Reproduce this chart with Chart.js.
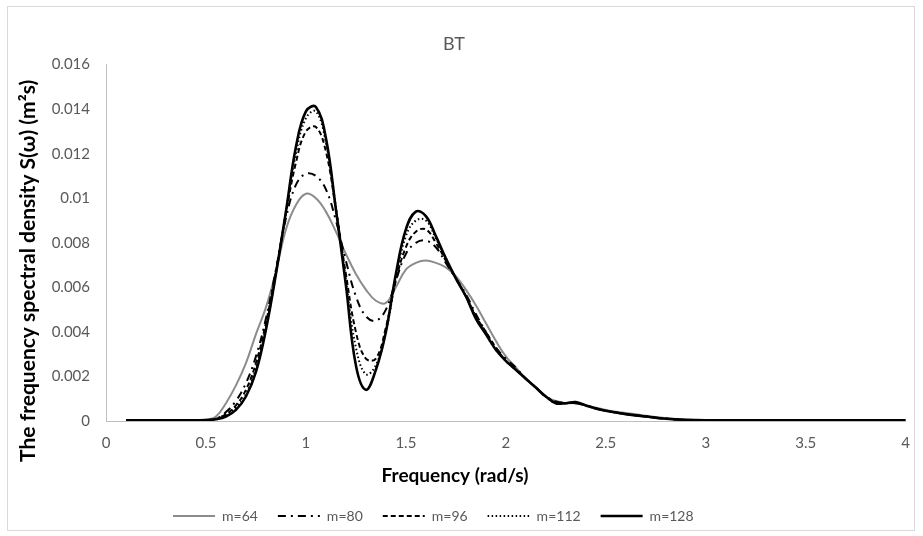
<!DOCTYPE html>
<html>
<head>
<meta charset="utf-8">
<script src="https://cdn.jsdelivr.net/npm/chart.js@4.4.1/dist/chart.umd.min.js"></script>
<style>
  html, body { margin: 0; padding: 0; background: #fff; }
</style>
</head>
<body>
<canvas id="chart" width="923" height="536"></canvas>
<script>
// frequency grid (rad/s)
const freq = [0.1, 0.2, 0.3, 0.4, 0.5, 0.55, 0.6, 0.65, 0.7, 0.75, 0.8, 0.85, 0.9, 0.95, 1.0,
  1.05, 1.1, 1.15, 1.2, 1.25, 1.3, 1.35, 1.4, 1.45, 1.5, 1.55, 1.6, 1.65, 1.7, 1.75,
  1.8, 1.85, 1.9, 1.95, 2.0, 2.05, 2.1, 2.15, 2.2, 2.25, 2.3, 2.35, 2.4, 2.45, 2.5,
  2.55, 2.6, 2.7, 2.8, 2.9, 3.0, 3.25, 3.5, 3.75, 4.0];

const m64 = [0.00002, 0.00003, 0.00003, 0.00004, 0.00006, 0.0002, 0.0008, 0.0016, 0.0026, 0.0039,
  0.0051, 0.0067, 0.0086, 0.0097, 0.0102, 0.0100, 0.0094, 0.0085, 0.0075, 0.0066,
  0.0059, 0.0054, 0.0053, 0.0060, 0.0068, 0.0071, 0.0072, 0.0071, 0.0069, 0.0065,
  0.0059, 0.0052, 0.0044, 0.0036, 0.0029, 0.0024, 0.0019, 0.0015, 0.0011, 0.0009,
  0.0008, 0.0008, 0.0007, 0.0006, 0.0005, 0.00042, 0.00036, 0.00024, 0.00013, 0.00006,
  0.00004, 0.00003, 0.00002, 0.00002, 0.00002];

const m80 = [0.00003, 0.00003, 0.00003, 0.00003, 0.00004, 0.0001, 0.0004, 0.0009, 0.0017, 0.0029,
  0.0046, 0.0068, 0.0091, 0.0106, 0.0111, 0.0110, 0.0104, 0.0090, 0.0072, 0.0056,
  0.0047, 0.0045, 0.0050, 0.0063, 0.0075, 0.0080, 0.0081, 0.0078, 0.0071, 0.0064,
  0.0057, 0.0048, 0.0040, 0.0033, 0.0028, 0.0024, 0.0019, 0.0015, 0.0011, 0.00088,
  0.00082, 0.0008, 0.0007, 0.00057, 0.00047, 0.00039, 0.00032, 0.00021, 0.00011, 0.00005,
  0.00003, 0.00003, 0.00003, 0.00003, 0.00003];

const m96 = [0.00003, 0.00003, 0.00003, 0.00003, 0.00004, 0.0001, 0.0003, 0.0007, 0.0014, 0.0026,
  0.0044, 0.0067, 0.0093, 0.0116, 0.0130, 0.0132, 0.0121, 0.0095, 0.0066, 0.0040,
  0.0028, 0.0028, 0.0042, 0.0063, 0.0078, 0.0085, 0.0086, 0.0080, 0.0072, 0.0064,
  0.0056, 0.0047, 0.0040, 0.0033, 0.0027, 0.0023, 0.0019, 0.0015, 0.0011, 0.00085,
  0.0008, 0.0008, 0.0007, 0.00056, 0.00046, 0.00038, 0.00031, 0.0002, 0.0001, 0.00005,
  0.00003, 0.00003, 0.00003, 0.00003, 0.00003];

const m112 = [0.00003, 0.00003, 0.00003, 0.00003, 0.00004, 0.0001, 0.0003, 0.0006, 0.0012, 0.0024,
  0.0042, 0.0066, 0.0094, 0.0120, 0.0136, 0.0139, 0.0125, 0.0096, 0.0063, 0.0033,
  0.0021, 0.0025, 0.0040, 0.0064, 0.0083, 0.0090, 0.0090, 0.0082, 0.0073, 0.0064,
  0.0056, 0.0047, 0.0039, 0.0032, 0.0027, 0.0023, 0.0019, 0.0015, 0.0011, 0.0008,
  0.0008, 0.00083, 0.0007, 0.00056, 0.00046, 0.00038, 0.00031, 0.0002, 0.0001, 0.00005,
  0.00003, 0.00003, 0.00003, 0.00003, 0.00003];

const m128 = [0.00003, 0.00003, 0.00003, 0.00003, 0.00004, 0.00008, 0.0002, 0.0005, 0.0011, 0.0022,
  0.0041, 0.0066, 0.0094, 0.0123, 0.0139, 0.0141, 0.0127, 0.0095, 0.0061, 0.0025,
  0.0014, 0.0023, 0.0040, 0.0066, 0.0086, 0.0094, 0.0092, 0.0083, 0.0073, 0.0064,
  0.0056, 0.0046, 0.0039, 0.0032, 0.0027, 0.0023, 0.0019, 0.0015, 0.0011, 0.0008,
  0.0008, 0.00085, 0.0007, 0.00056, 0.00046, 0.00038, 0.00031, 0.0002, 0.0001, 0.00005,
  0.00003, 0.00003, 0.00003, 0.00003, 0.00003];

const seriesNames = ['m=64', 'm=80', 'm=96', 'm=112', 'm=128'];
const seriesValues = [m64, m80, m96, m112, m128];

// line looks, one per series
const looks = [
  { color: '#8c8c8c', width: 2, dash: [] },
  { color: '#000000', width: 2, dash: [8, 5, 2, 5] },
  { color: '#000000', width: 2, dash: [5, 3] },
  { color: '#000000', width: 2, dash: [1.5, 2.5] },
  { color: '#000000', width: 2.6, dash: [] },
];

const tickGrey = '#595959';

const datasets = seriesNames.map((name, i) => ({
  label: name,
  data: freq.map((f, j) => ({ x: f, y: seriesValues[i][j] })),
  borderColor: looks[i].color,
  backgroundColor: looks[i].color,
  borderWidth: looks[i].width,
  borderDash: looks[i].dash,
  pointRadius: 0,
  tension: 0.4,
  fill: false,
  order: seriesNames.length - 1 - i,   // m=128 ends up on top
}));

// light frame round the whole chart, like the spreadsheet chart box
const frame = {
  id: 'frame',
  beforeDraw(chart) {
    const c = chart.ctx;
    c.save();
    c.fillStyle = '#fff';
    c.fillRect(0, 0, chart.width, chart.height);
    c.strokeStyle = '#d9d9d9';
    c.lineWidth = 1;
    c.strokeRect(7.5, 6.5, 907, 524);
    c.restore();
  }
};

// legend sits left of centre in the reference
const legendSpot = {
  id: 'legendSpot',
  afterLayout(chart) {
    const lg = chart.legend;
    const h = lg.bottom - lg.top, w = lg.right - lg.left;
    lg.top = 489; lg.bottom = 489 + h;
    lg.left = 153; lg.right = 153 + w;
  }
};

// axis titles are centred on the whole chart box in the reference, not on the plot;
// trailing spaces move the centred text over by the right amount
const yTitle = 'The frequency spectral density S(ω) (m²s)' + ' '.repeat(11);
const xTitle = 'Frequency (rad/s)' + ' '.repeat(22);

new Chart(document.getElementById('chart'), {
  type: 'line',
  data: { datasets },
  plugins: [frame, legendSpot],
  options: {
    responsive: false,
    animation: false,
    layout: { padding: { left: 0, right: 15, top: 20, bottom: 0 } },
    plugins: {
      title: {
        display: true,
        text: 'BT',
        color: tickGrey,
        font: { family: 'Lato', size: 18, weight: 'normal' },
        padding: { top: 13, bottom: 10 },
      },
      legend: {
        position: 'bottom',
        align: 'start',
        labels: {
          usePointStyle: true,
          pointStyleWidth: 42,
          padding: 20,
          color: tickGrey,
          font: { family: 'Lato', size: 14 },
          sort: (a, b) => a.datasetIndex - b.datasetIndex,
          generateLabels(chart) {
            return Chart.defaults.plugins.legend.labels.generateLabels(chart).map(item => {
              const ds = chart.data.datasets[item.datasetIndex];
              return Object.assign(item, {
                pointStyle: 'line',
                lineDash: ds.borderDash,
                lineWidth: ds.borderWidth,
                strokeStyle: ds.borderColor,
                lineCap: 'butt',
              });
            });
          },
        },
      },
      tooltip: { enabled: false },
    },
    scales: {
      x: {
        type: 'linear',
        min: 0,
        max: 4,
        grid: { display: false, drawTicks: false },
        border: { display: true, color: '#bfbfbf', width: 1 },
        ticks: {
          stepSize: 0.5,
          padding: 13,
          color: tickGrey,
          font: { family: 'Lato', size: 15 },
          callback: v => String(+v.toFixed(1)),
        },
        title: {
          display: true,
          text: xTitle,
          color: '#000',
          font: { family: 'Lato', size: 19, weight: 'bold' },
          padding: { top: 0, bottom: 5 },
        },
        afterFit(scale) { scale.height = 71; },
      },
      y: {
        min: 0,
        max: 0.016,
        grid: { display: false, drawTicks: false },
        border: { display: true, color: '#bfbfbf', width: 1 },
        ticks: {
          stepSize: 0.002,
          padding: 16,
          color: tickGrey,
          font: { family: 'Lato', size: 15 },
          callback: v => String(+v.toFixed(3)),
        },
        title: {
          display: true,
          text: yTitle,
          color: '#000',
          font: { family: 'Lato', size: 21, weight: 'bold' },
          padding: { top: 16, bottom: 0 },
        },
        afterFit(scale) { scale.width = 106; },
      },
    },
  },
});
</script>
</body>
</html>
